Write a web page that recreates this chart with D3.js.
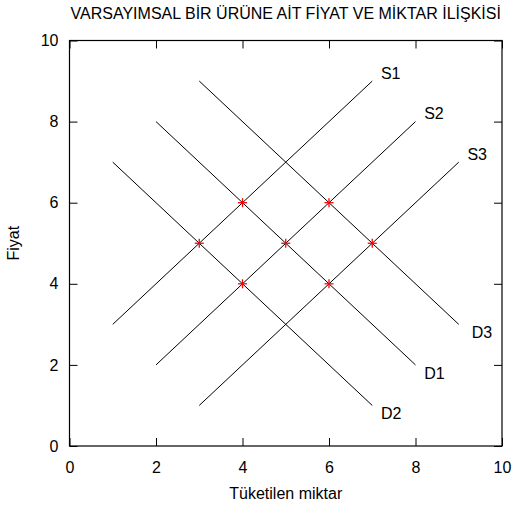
<!DOCTYPE html>
<html><head><meta charset="utf-8">
<script src="https://cdn.jsdelivr.net/npm/d3@7"></script>
<style>body{margin:0;background:#fff}svg{font-family:"Liberation Sans",Arial,sans-serif}</style>
</head><body>
<script>
const title = "VARSAYIMSAL BİR ÜRÜNE AİT FİYAT VE MİKTAR İLİŞKİSİ";
const xLabel = "Tüketilen miktar";
const yLabel = "Fiyat";
const xTicks = [0,2,4,6,8,10];
const yTicks = [0,2,4,6,8,10];
const lineNames = ["S1","S2","S3","D1","D2","D3"];
const lineX1 = [1,2,3,2,1,3];
const lineY1 = [3,2,1,8,7,9];
const lineX2 = [7,8,9,8,7,9];
const lineY2 = [9,8,7,2,1,3];
const labelX = [7.2,8.2,9.2,8.2,7.2,9.3];
const labelY = [9.2,8.2,7.2,1.8,0.8,2.8];
const pointX = [4,6,3,5,7,4,6];
const pointY = [6,6,5,5,5,4,4];

const W=515,H=505;
const m={l:69.5,r:13,t:40.5,b:59};
const svg=d3.select("body").append("svg").attr("width",W).attr("height",H);
const x=d3.scaleLinear().domain([0,10]).range([m.l,W-m.r]);
const y=d3.scaleLinear().domain([0,10]).range([H-m.b,m.t]);
const fs=16;

svg.append("text").attr("x",(x(0)+x(10))/2).attr("y",18.5).attr("text-anchor","middle").attr("font-size",fs).text(title);

const tl=8;
const g=svg.append("g");
g.append("g").attr("transform",`translate(0,${y(0)})`).call(d3.axisBottom(x).tickValues(xTicks).tickSize(-tl).tickPadding(16));
g.append("g").attr("transform",`translate(0,${y(10)})`).call(d3.axisTop(x).tickValues(xTicks).tickSize(-tl).tickFormat(""));
g.append("g").attr("transform",`translate(${x(0)},0)`).call(d3.axisLeft(y).tickValues(yTicks).tickSize(-tl).tickPadding(11));
g.append("g").attr("transform",`translate(${x(10)},0)`).call(d3.axisRight(y).tickValues(yTicks).tickSize(-tl).tickFormat(""));
g.selectAll(".domain").remove();
g.selectAll(".tick line").attr("stroke","#000");
g.selectAll(".tick text").attr("font-size",fs).attr("font-family","Liberation Sans, Arial, sans-serif").attr("fill","#000");
svg.append("rect").attr("x",x(0)).attr("y",y(10)).attr("width",x(10)-x(0)).attr("height",y(0)-y(10)).attr("fill","none").attr("stroke","#000").attr("stroke-width",1.2);

svg.append("text").attr("x",(x(0)+x(10))/2).attr("y",499).attr("text-anchor","middle").attr("font-size",fs).text(xLabel);
svg.append("text").attr("transform",`translate(19,${(y(0)+y(10))/2}) rotate(-90)`).attr("text-anchor","middle").attr("font-size",fs).text(yLabel);

const lines=lineNames.map((n,i)=>({n,x1:lineX1[i],y1:lineY1[i],x2:lineX2[i],y2:lineY2[i],lx:labelX[i],ly:labelY[i]}));
svg.append("g").selectAll("line").data(lines).join("line")
 .attr("x1",d=>x(d.x1)).attr("y1",d=>y(d.y1)).attr("x2",d=>x(d.x2)).attr("y2",d=>y(d.y2))
 .attr("stroke","#000").attr("stroke-width",1);
svg.append("g").selectAll("text").data(lines).join("text")
 .attr("x",d=>x(d.lx)).attr("y",d=>y(d.ly)).attr("dy","0.35em").attr("font-size",fs).text(d=>d.n);

const pts=pointX.map((v,i)=>({x:v,y:pointY[i]}));
const s=4.5;
const pg=svg.append("g").attr("stroke","#ff0000").attr("stroke-width",1.3);
pts.forEach(p=>{
  pg.append("line").attr("x1",x(p.x)-s).attr("x2",x(p.x)+s).attr("y1",y(p.y)).attr("y2",y(p.y));
  pg.append("line").attr("x1",x(p.x)).attr("x2",x(p.x)).attr("y1",y(p.y)-s).attr("y2",y(p.y)+s);
});
</script>
</body></html>
